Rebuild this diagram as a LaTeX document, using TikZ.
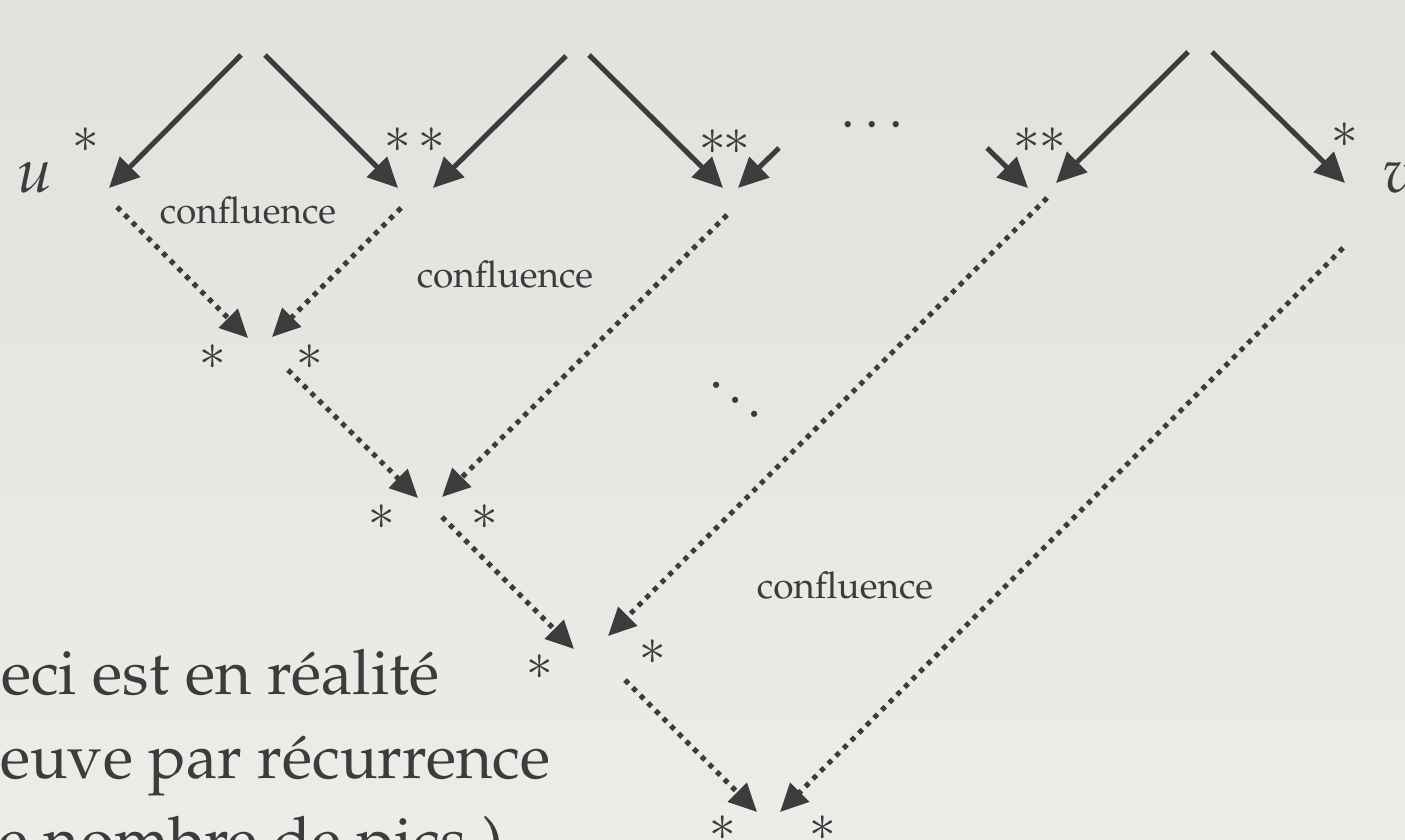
\documentclass[tikz,border=0pt]{standalone}
\usepackage[T1]{fontenc}
\usepackage{mathpazo}
\usetikzlibrary{arrows.meta}
\definecolor{ink}{HTML}{3C3C3C}
\definecolor{bgtop}{HTML}{E3E1DD}
\definecolor{bgbot}{HTML}{EDECE9}
\tikzset{
  solidarr/.style={draw=ink, line width=5pt, -{Triangle[length=30pt,width=28pt]}},
  dotarr/.style={draw=ink, line width=5pt, line cap=butt, dash pattern=on 5pt off 5.8pt, -{Triangle[length=28pt,width=26pt]}},
  astk/.style={text=ink, inner sep=0pt, font=\fontsize{51}{56}\selectfont},
  lab/.style={text=ink, inner sep=0pt, font=\fontsize{37}{40}\selectfont},
  bigtxt/.style={text=ink, inner sep=0pt, font=\fontsize{62.5}{70}\selectfont},
  dotstxt/.style={text=ink, inner sep=0pt, font=\fontsize{54}{60}\selectfont}
}
\begin{document}
\begin{tikzpicture}[x=1pt, y=-1pt]
\useasboundingbox (0,0) rectangle (1405,840);
\clip (0,0) rectangle (1405,840);
\shade[top color=bgtop, bottom color=bgbot] (0,0) rectangle (1405,840);

% solid arrows (peaks)
\coordinate (a1s) at (241,55);  \coordinate (a1t) at (109,188);
\coordinate (b1s) at (265,55);  \coordinate (b1t) at (398,188);
\coordinate (a2s) at (566,56);  \coordinate (a2t) at (433,188);
\coordinate (b2s) at (589,55);  \coordinate (b2t) at (723,188);
\coordinate (c2s) at (779,148); \coordinate (c2t) at (738,188);
\coordinate (c3s) at (987,148); \coordinate (c3t) at (1028,188);
\coordinate (a3s) at (1188,52); \coordinate (a3t) at (1056,183);
\coordinate (b3s) at (1212,52); \coordinate (b3t) at (1345,183);
\draw[solidarr] (a1s) -- (a1t);
\draw[solidarr] (b1s) -- (b1t);
\draw[solidarr] (a2s) -- (a2t);
\draw[solidarr] (b2s) -- (b2t);
\draw[solidarr] (c2s) -- (c2t);
\draw[solidarr] (c3s) -- (c3t);
\draw[solidarr] (a3s) -- (a3t);
\draw[solidarr] (b3s) -- (b3t);

% dotted arrows (confluences)
\coordinate (d1s) at (117,207);  \coordinate (d1t) at (248,338);
\coordinate (d2s) at (401,208);  \coordinate (d2t) at (272,337);
\coordinate (d3s) at (288,370);  \coordinate (d3t) at (418,498);
\coordinate (d4s) at (727,215);  \coordinate (d4t) at (442,497);
\coordinate (d5s) at (442,517);  \coordinate (d5t) at (574,649);
\coordinate (d6s) at (1047,198); \coordinate (d6t) at (608,636);
\coordinate (d7s) at (625,680);  \coordinate (d7t) at (757,812);
\coordinate (d8s) at (1343,248); \coordinate (d8t) at (780,812);
\draw[dotarr] (d1s) -- (d1t);
\draw[dotarr] (d2s) -- (d2t);
\draw[dotarr] (d3s) -- (d3t);
\draw[dotarr] (d4s) -- (d4t);
\draw[dotarr] (d5s) -- (d5t);
\draw[dotarr] (d6s) -- (d6t);
\draw[dotarr] (d7s) -- (d7t);
\draw[dotarr] (d8s) -- (d8t);

% end points u and v
\node[bigtxt, anchor=base] (u) at (35,192) {$u$};
\node[bigtxt, anchor=base] (v) at (1399,192) {$v$};

% stars on top
\node[astk] (s0) at (86,140) {$*$};
\node[astk] (s1) at (398,140) {$*$};
\node[astk] (s2) at (432,140) {$*$};
\node[astk] (s3) at (713,142) {$*$};
\node[astk] (s4) at (737,142) {$*$};
\node[astk] (s5) at (1027,140) {$*$};
\node[astk] (s6) at (1053,140) {$*$};
\node[astk] (s7) at (1345,135) {$*$};

% stars at the confluence levels
\node[astk] (l1a) at (213,357) {$*$};
\node[astk] (l1b) at (310,357) {$*$};
\node[astk] (l2a) at (382,517) {$*$};
\node[astk] (l2b) at (485,517) {$*$};
\node[astk] (l3a) at (540,667) {$*$};
\node[astk] (l3b) at (653,652) {$*$};
\node[astk] (l4a) at (723,828) {$*$};
\node[astk] (l4b) at (823,828) {$*$};

% labels
\node[lab, anchor=base] (cf1) at (248,223) {confluence};
\node[lab, anchor=base] (cf2) at (505,287) {confluence};
\node[lab, anchor=base] (cf3) at (845,598) {confluence};

% ellipses
\node[dotstxt] (el1) at (872,125) {$\ldots$};
\node[dotstxt, rotate=-37.4] (el2) at (736,400) {$\ldots$};

% text at lower left
\node[bigtxt, anchor=base west] (t1) at (1,694) {eci est en r\'ealit\'e};
\node[bigtxt, anchor=base west] (t2) at (0,778) {euve par r\'ecurrence};
\node[bigtxt, anchor=base west] (t3) at (-2,861) {e nombre de pics )};
\end{tikzpicture}
\end{document}
